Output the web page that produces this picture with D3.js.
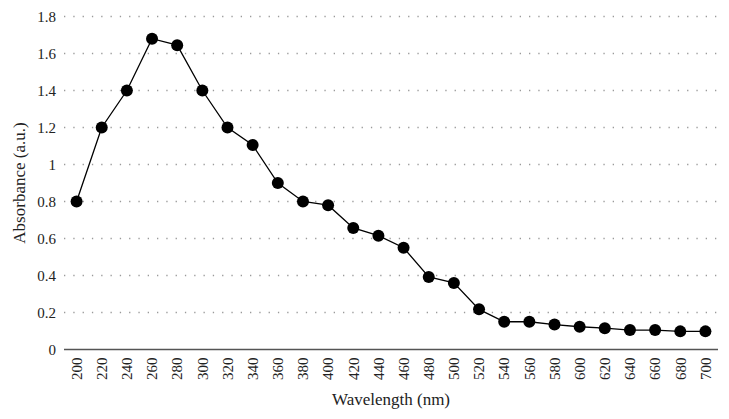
<!DOCTYPE html>
<html>
<head>
<meta charset="utf-8">
<script src="https://cdn.jsdelivr.net/npm/d3@7"></script>
<style>
  body { margin: 0; background: #fff; }
</style>
</head>
<body>
<svg id="chart" width="729" height="419"></svg>
<script>
// ── Data ─────────────────────────────────────────────────────────
const wavelengths = [200, 220, 240, 260, 280, 300, 320, 340, 360, 380, 400, 420, 440,
                     460, 480, 500, 520, 540, 560, 580, 600, 620, 640, 660, 680, 700];
const absorbance  = [0.80, 1.20, 1.40, 1.68, 1.645, 1.40, 1.20, 1.105, 0.90, 0.80, 0.78, 0.657, 0.615,
                     0.55, 0.392, 0.36, 0.217, 0.15, 0.15, 0.135, 0.123, 0.115, 0.105, 0.105, 0.098, 0.098];
const yTicks      = [0, 0.2, 0.4, 0.6, 0.8, 1, 1.2, 1.4, 1.6, 1.8];

const FONT = "Liberation Serif";

// ── Layout ───────────────────────────────────────────────────────
const margin = { top: 16.5, right: 11, bottom: 69.5, left: 64 };
const W = 729, H = 419;
const innerW = W - margin.left - margin.right;
const innerH = H - margin.top - margin.bottom;

const svg = d3.select("#chart");
const g = svg.append("g").attr("transform", `translate(${margin.left},${margin.top})`);

const x = d3.scaleBand().domain(wavelengths).range([0, innerW]);
const y = d3.scaleLinear().domain([0, 1.8]).range([innerH, 0]);

// ── Grid ─────────────────────────────────────────────────────────
g.selectAll(".grid").data(yTicks.filter(t => t > 0)).enter()
  .append("line")
  .attr("x1", 0).attr("x2", innerW)
  .attr("y1", d => y(d)).attr("y2", d => y(d))
  .attr("stroke", "#9a9a9a")
  .attr("stroke-width", 1.3)
  .attr("stroke-dasharray", "1.3,8");

// ── Y axis labels ────────────────────────────────────────────────
g.selectAll(".ylab").data(yTicks).enter()
  .append("text")
  .attr("x", -8).attr("y", d => y(d))
  .attr("dy", "0.35em")
  .attr("text-anchor", "end")
  .attr("font-family", FONT)
  .attr("font-size", 15)
  .attr("fill", "#222")
  .text(d => d3.format("")(d));

// ── X axis ───────────────────────────────────────────────────────
g.append("line")
  .attr("x1", 0).attr("x2", innerW)
  .attr("y1", innerH).attr("y2", innerH)
  .attr("stroke", "#555").attr("stroke-width", 1.6);

g.selectAll(".xlab").data(wavelengths).enter()
  .append("text")
  .attr("transform", d => `translate(${x(d) + x.bandwidth() / 2},${innerH + 8}) rotate(-90)`)
  .attr("dy", "0.35em")
  .attr("text-anchor", "end")
  .attr("font-family", FONT)
  .attr("font-size", 15)
  .attr("fill", "#222")
  .text(d => d);

svg.append("text")
  .attr("x", margin.left + innerW / 2).attr("y", 405)
  .attr("text-anchor", "middle")
  .attr("font-family", FONT)
  .attr("font-size", 17)
  .attr("fill", "#222")
  .text("Wavelength (nm)");

svg.append("text")
  .attr("transform", `translate(25,${margin.top + innerH / 2}) rotate(-90)`)
  .attr("text-anchor", "middle")
  .attr("font-family", FONT)
  .attr("font-size", 17)
  .attr("fill", "#222")
  .text("Absorbance (a.u.)");

// ── Line + markers ───────────────────────────────────────────────
const pts = wavelengths.map((w, i) => [x(w) + x.bandwidth() / 2, y(absorbance[i])]);

g.append("path")
  .attr("d", d3.line()(pts))
  .attr("fill", "none")
  .attr("stroke", "#000")
  .attr("stroke-width", 1.3);

g.selectAll(".dot").data(pts).enter()
  .append("circle")
  .attr("cx", d => d[0]).attr("cy", d => d[1])
  .attr("r", 6)
  .attr("fill", "#000");
</script>
</body>
</html>
